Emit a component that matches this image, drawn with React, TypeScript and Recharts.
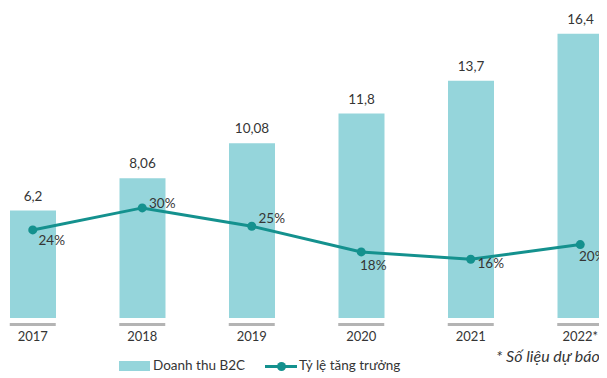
import React from "react";
import { ComposedChart, Bar, Line, XAxis, YAxis, LabelList, Legend } from "recharts";

const years = ["2017", "2018", "2019", "2020", "2021", "2022*"];
const revenue = [6.2, 8.06, 10.08, 11.8, 13.7, 16.4];
const growth = [24, 30, 25, 18, 16, 20];

const data = years.map((y, i) => ({ year: y, revenue: revenue[i], growth: growth[i] }));

const BAR_COLOR = "#95D5DB";
const LINE_COLOR = "#14918E";
const TEXT = "#353535";
const FONT = "Lato, 'Open Sans', sans-serif";

const pctOffsets = [
  [19, 10], [20, -5], [20, -8], [12, 13], [20, 4], [12, 11],
];

const Tick = (props: any) => {
  const { x, y, payload } = props;
  return (
    <g>
      <rect x={x - 23} y={y + 5} width={46} height={3} fill="#b4b4b4" />
      <text x={x} y={y + 23} textAnchor="middle" fontSize={13} fill={TEXT} fontFamily={FONT}>
        {payload.value}
      </text>
    </g>
  );
};

const PctLabel = (props: any) => {
  const { x, y, value, index } = props;
  const [dx, dy] = pctOffsets[index] || [18, 8];
  return (
    <text x={x + dx} y={y + dy} textAnchor="middle" dominantBaseline="central" fontSize={13.5} fill={TEXT} fontFamily={FONT}>
      {value}%
    </text>
  );
};

const LegendContent = () => (
  <div style={{ position: "relative", height: 28, width: 599, fontFamily: FONT, color: TEXT }}>
    <div style={{ position: "absolute", left: 111, top: 11, width: 31, height: 10, background: BAR_COLOR }} />
    <span style={{ position: "absolute", left: 145, top: 7, fontSize: 13.5, lineHeight: "16px", whiteSpace: "nowrap" }}>Doanh thu B2C</span>
    <div style={{ position: "absolute", left: 257, top: 15, width: 32, height: 3, background: LINE_COLOR }} />
    <div style={{ position: "absolute", left: 269, top: 12, width: 9, height: 9, borderRadius: 5, background: LINE_COLOR }} />
    <span style={{ position: "absolute", left: 291, top: 7, fontSize: 13.5, lineHeight: "16px", whiteSpace: "nowrap" }}>Tỷ lệ tăng trưởng</span>
    <span style={{ position: "absolute", left: 488, top: -4, fontSize: 16, lineHeight: "19px", fontStyle: "italic", whiteSpace: "nowrap" }}>* Số liệu dự báo</span>
  </div>
);

export default function App() {
  return (
    <ComposedChart
      width={599}
      height={370}
      data={data}
      margin={{ top: 12, right: -28, left: -30, bottom: 0 }}
      barCategoryGap={0}
    >
      <XAxis
        dataKey="year"
        axisLine={false}
        tickLine={false}
        tickSize={0}
        tickMargin={0}
        height={32}
        interval={0}
        tick={<Tick />}
      />
      <YAxis yAxisId="left" hide domain={[0, 17.2]} allowDataOverflow />
      <YAxis yAxisId="right" orientation="right" hide domain={[0, 81.2]} allowDataOverflow />
      <Legend verticalAlign="bottom" height={28} content={<LegendContent />} wrapperStyle={{ left: 0, width: 599 }} />
      <Bar yAxisId="left" dataKey="revenue" fill={BAR_COLOR} barSize={46} isAnimationActive={false}>
        <LabelList
          dataKey="revenue"
          position="top"
          offset={10}
          fontSize={13.5}
          fill={TEXT}
          fontFamily={FONT}
          formatter={(v: any) => String(v).replace(".", ",")}
        />
      </Bar>
      <Line
        yAxisId="right"
        dataKey="growth"
        stroke={LINE_COLOR}
        strokeWidth={3}
        dot={{ r: 4.5, fill: LINE_COLOR, stroke: LINE_COLOR, strokeWidth: 0 }}
        isAnimationActive={false}
      >
        <LabelList dataKey="growth" content={<PctLabel />} />
      </Line>
    </ComposedChart>
  );
}
